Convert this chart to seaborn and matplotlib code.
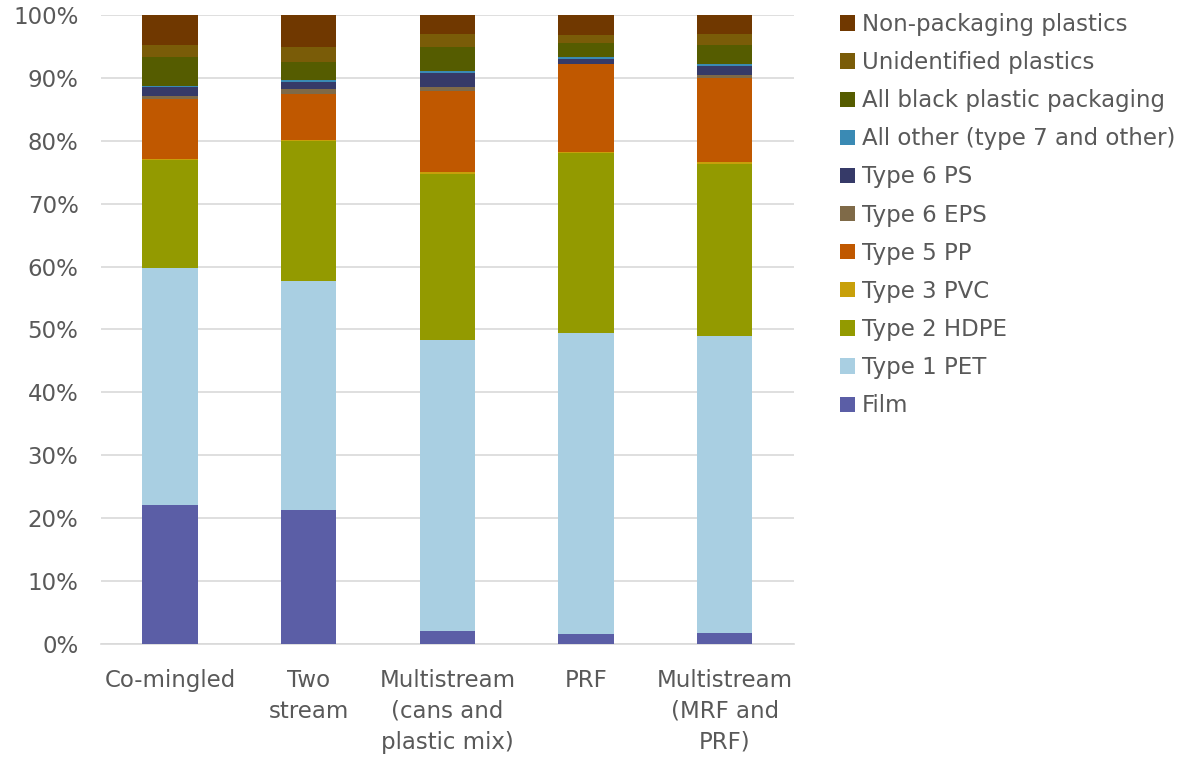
import matplotlib

matplotlib.use("Agg")

import matplotlib.pyplot as plt
import numpy as np
import pandas as pd
import seaborn as sns
from matplotlib.patches import Patch
from matplotlib.ticker import PercentFormatter

categories = [
    "Co-mingled",
    "Two\nstream",
    "Multistream\n(cans and\nplastic mix)",
    "PRF",
    "Multistream\n(MRF and\nPRF)",
]

# bottom -> top stacking order
materials = [
    "Film",
    "Type 1 PET",
    "Type 2 HDPE",
    "Type 3 PVC",
    "Type 5 PP",
    "Type 6 EPS",
    "Type 6 PS",
    "All other (type 7 and other)",
    "All black plastic packaging",
    "Unidentified plastics",
    "Non-packaging plastics",
]

film = [22.1, 21.3, 2.0, 1.5, 1.7]
pet = [37.6, 36.4, 46.3, 47.9, 47.3]
hdpe = [17.3, 22.3, 26.5, 28.6, 27.4]
pvc = [0.2, 0.2, 0.2, 0.2, 0.2]
pp = [9.4, 7.3, 13.0, 14.0, 13.4]
eps = [0.5, 0.7, 0.6, 0.1, 0.5]
ps = [1.5, 1.2, 2.2, 0.8, 1.4]
other = [0.2, 0.3, 0.3, 0.2, 0.3]
black = [4.5, 2.9, 3.9, 2.2, 3.1]
unidentified = [1.9, 2.3, 2.0, 1.3, 1.7]
non_packaging = [4.8, 5.1, 3.0, 3.2, 3.0]

colors = [
    "#5B5EA6",
    "#A9CFE2",
    "#939A00",
    "#C8A00A",
    "#C05800",
    "#7F6A48",
    "#363A68",
    "#3A8AB4",
    "#555C00",
    "#7A5C08",
    "#703800",
]

values = [film, pet, hdpe, pvc, pp, eps, ps, other, black, unidentified, non_packaging]
df = pd.DataFrame(dict(zip(materials, values)), index=categories)
cum = df.cumsum(axis=1)

sns.set_theme(style="white")
plt.rcParams["font.family"] = ["DejaVu Sans"]
text_color = "#595959"

fig, ax = plt.subplots(figsize=(11.85, 7.6), dpi=100)
fig.subplots_adjust(left=0.085, right=0.67, top=0.98, bottom=0.153)

# draw cumulative totals from the top layer down so lower layers overlay
for mat, col in zip(materials[::-1], colors[::-1]):
    plot_df = pd.DataFrame({"cat": categories, "val": cum[mat].values})
    sns.barplot(data=plot_df, x="cat", y="val", color=col, width=0.4,
                saturation=1, linewidth=0, ax=ax, zorder=3)

ax.set_xlim(-0.5, 4.5)
ax.set_ylim(0, 100)
ax.set_yticks(np.arange(0, 101, 10))
ax.yaxis.set_major_formatter(PercentFormatter(decimals=0))
ax.grid(axis="y", color="#D9D9D9", linewidth=1.2, zorder=0)
ax.set_axisbelow(True)
for s in ["top", "right", "left"]:
    ax.spines[s].set_visible(False)
ax.spines["bottom"].set_color("#D9D9D9")
ax.spines["bottom"].set_linewidth(1.2)
ax.set_xlabel("")
ax.set_ylabel("")
ax.tick_params(axis="y", colors=text_color, labelsize=16.5, length=0, pad=16)
ax.tick_params(axis="x", colors=text_color, labelsize=16.5, length=0, pad=18)
for lab in ax.get_xticklabels():
    lab.set_linespacing(1.45)

handles = [Patch(facecolor=c, edgecolor="none") for c in colors[::-1]]
fig.legend(handles, materials[::-1], loc="upper left", bbox_to_anchor=(0.701, 0.995),
           frameon=False, fontsize=16.5, labelcolor=text_color, labelspacing=0.66,
           handlelength=0.65, handleheight=0.65, handletextpad=0.3, borderaxespad=0)

fig.savefig("out.png", dpi=100)
